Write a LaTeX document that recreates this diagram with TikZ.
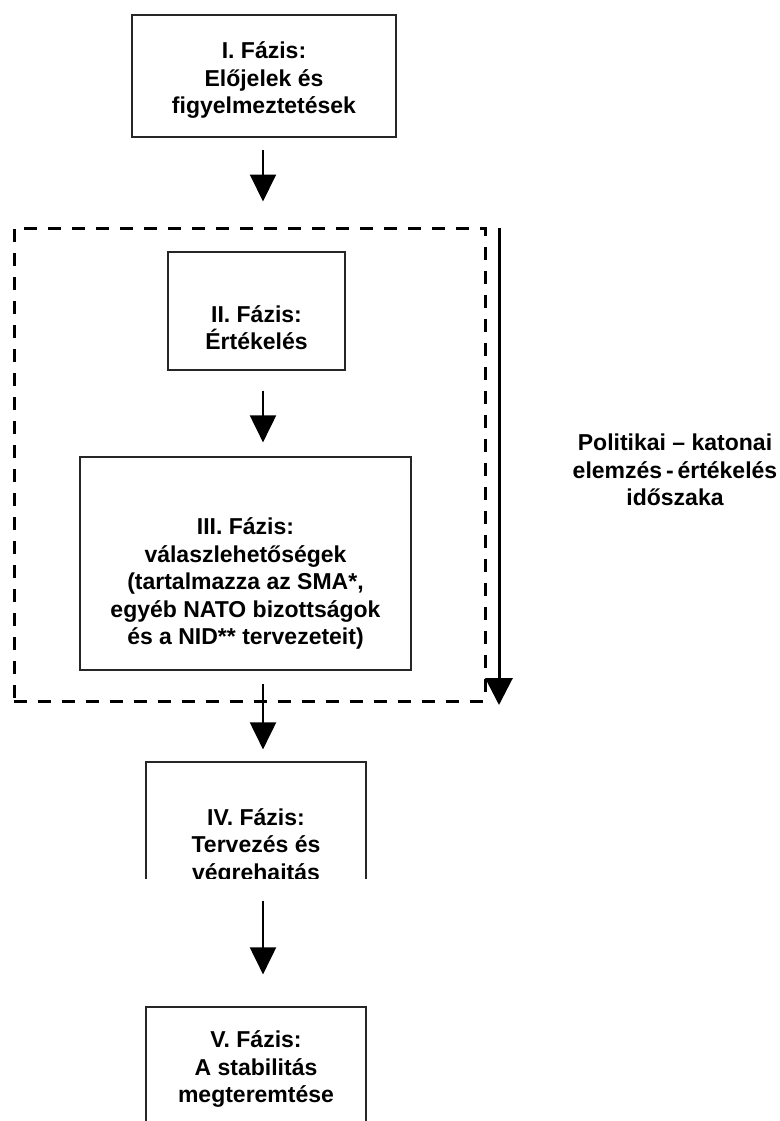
\documentclass[tikz,border=0pt]{standalone}
\usepackage{fontspec}
\setmainfont{Liberation Sans}
\usetikzlibrary{arrows.meta}

\begin{document}
\begin{tikzpicture}[x=1pt,y=-1pt,
    phase/.style={draw=black!85,line width=1.2pt,inner sep=0pt},
    phasetext/.style={align=center,inner sep=0pt,font=\bfseries\fontsize{23}{27.5}\selectfont},
    flow/.style={-{Triangle[length=27pt,width=26pt]},line width=2pt},
    frame/.style={draw,line width=3pt,dash pattern=on 13pt off 11pt,inner sep=0pt}]
  \def\ax{263}
  \useasboundingbox (0,0) rectangle (779,1121);

  \node[phase,minimum width=264pt,minimum height=122pt,
    label={[phasetext,yshift=-4.5pt]center:{I. Fázis:\\Előjelek és\\figyelmeztetések}}] (b1) at (264,76) {};

  % dashed frame of the analysis period
  \node[frame,minimum width=471pt,minimum height=473pt] (period) at (249.5,464.5) {};

  \node[phase,minimum width=177pt,minimum height=118pt,
    label={[phasetext,yshift=-16.5pt]center:{II. Fázis:\\Értékelés}}] (b2) at (256.5,311) {};
  \node[phase,minimum width=331pt,minimum height=213pt,
    label={[phasetext,yshift=-20pt]center:{III. Fázis:\\válaszlehetőségek\\(tartalmazza az SMA*,\\egyéb NATO bizottságok\\és a NID** tervezeteit)}}] (b3) at (245.5,563.5) {};

  \begin{scope}
    \clip (0,0) rectangle (779,878);
    \node[phase,minimum width=220pt,minimum height=128pt,
      label={[phasetext,yshift=-20.5pt]center:{IV. Fázis:\\Tervezés és\\végrehajtás}}] (b4) at (256,826) {};
  \end{scope}
  \begin{scope}
    \clip (0,0) rectangle (779,1121);
    \node[phase,minimum width=220pt,minimum height=124pt,
      label={[phasetext]center:{V. Fázis:\\A stabilitás\\megteremtése}}] (b5) at (256,1069) {};
  \end{scope}

  \coordinate (axis) at (\ax,0);
  \draw[flow,shorten <=12pt,shorten >=25pt] (b1.south -| axis) -- (period.north -| axis);
  \draw[flow,shorten <=20pt,shorten >=14pt] (b2.south -| axis) -- (b3.north -| axis);
  \draw[flow,shorten <=13pt,shorten >=12pt] (b3.south -| axis) -- (b4.north -| axis);
  \draw[flow,shorten <=10pt,shorten >=32pt] (b4.south -| axis) -- (b5.north -| axis);

  % time arrow beside the frame
  \coordinate (ptop) at (499,228);
  \coordinate (pbot) at (499,705);
  \draw[-{Triangle[length=27pt,width=27pt]},line width=3pt] (ptop) -- (pbot);
  \node[phasetext] (ptext) at (675,470) {Politikai – katonai\\elemzés\,-\,értékelés\\időszaka};
\end{tikzpicture}
\end{document}
